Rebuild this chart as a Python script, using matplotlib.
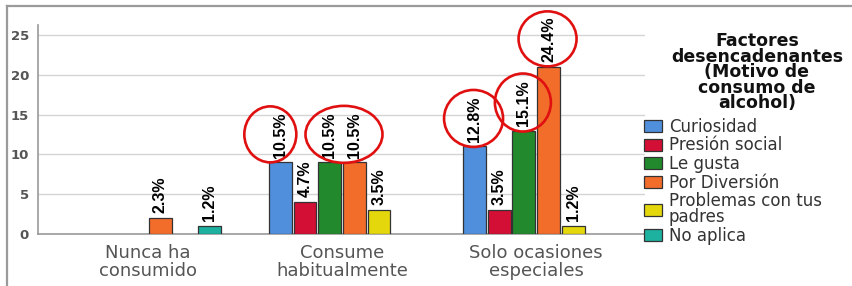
import numpy as np
import matplotlib
matplotlib.use("Agg")
import matplotlib.pyplot as plt
from matplotlib.patches import Ellipse
from matplotlib.lines import Line2D
from matplotlib.transforms import IdentityTransform

plt.rcParams['font.family'] = ['Liberation Sans', 'DejaVu Sans']

# datos (conteos, n total = 86)
categorias = ['Nunca ha\nconsumido', 'Consume\nhabitualmente', 'Solo ocasiones\nespeciales']
factores = ['Curiosidad', 'Presión social', 'Le gusta', 'Por Diversión',
            'Problemas con tus\npadres', 'No aplica']
curiosidad = [0, 9, 11]
presion = [0, 4, 3]
le_gusta = [0, 9, 13]
diversion = [2, 9, 21]
problemas = [0, 3, 1]
no_aplica = [1, 0, 0]
total = 86
yticks = [0, 5, 10, 15, 20, 25]
titulo_leyenda = 'Factores\ndesencadenantes\n(Motivo de\nconsumo de\nalcohol)'

series = [curiosidad, presion, le_gusta, diversion, problemas, no_aplica]
colores = ['#4f8fdc', '#d40f35', '#228a2c', '#f26c2a', '#e4d80c', '#1db2a0']

# circulos rojos: (categoria, [series], ancho px, alto px, dx px)
circulos = [(1, [0], 52, 56, -10),
            (1, [2, 3], 77, 57, 2),
            (2, [0], 59, 57, -1),
            (2, [2], 56, 58, -1),
            (2, [3], 58, 55, -1)]

fig = plt.figure(figsize=(8.53, 2.86), dpi=100)
ax = fig.add_axes([38/853, 1-234/286, (645-38)/853, (234-25)/286])

x = np.arange(len(categorias))
slot = 0.127
bw = 0.118
for i, (vals, col, name) in enumerate(zip(series, colores, factores)):
    pos = x + (i - 2.5) * slot
    m = np.array(vals) > 0
    ax.bar(pos[m], np.array(vals)[m], width=bw, color=col, edgecolor='#333333',
           linewidth=0.9, zorder=3)
    for p, v in zip(pos[m], np.array(vals)[m]):
        ax.annotate(f'{v/total*100:.1f}%', (p, v), xytext=(0, 3.5),
                    textcoords='offset points', rotation=90, ha='center',
                    va='bottom', fontsize=11.5, fontweight='bold', zorder=4)
    ax.bar([np.nan], [np.nan], width=bw, color=col, edgecolor='#333333',
           linewidth=0.9, label=name)

ax.set_xlim(-0.565, 2.56)
ax.set_ylim(0, 26.26)
ax.set_yticks(yticks)
ax.set_xticks(x)
ax.set_xticklabels(categorias, fontsize=13, color='#555555',
                   family='DejaVu Sans', linespacing=1.0)
ax.set_yticklabels([str(v) for v in yticks], fontsize=9.5, color='#555555',
                   family='DejaVu Sans', fontweight='bold')
ax.tick_params(axis='y', length=0, pad=6.5)
ax.tick_params(axis='x', length=0, pad=7)
ax.grid(axis='y', color='#d4d4d4', linewidth=1.0, zorder=0)
ax.set_axisbelow(True)
for s in ['top', 'right']:
    ax.spines[s].set_visible(False)
ax.spines['left'].set_color('#999999')
ax.spines['bottom'].set_color('#999999')
ax.spines['left'].set_linewidth(1.2)
ax.spines['bottom'].set_linewidth(1.2)

# titulo de la leyenda aparte, centrado como en el original
fig.text(757/853, 1-32/286, titulo_leyenda, ha='center', va='top',
         multialignment='center', family='DejaVu Sans', fontweight='bold',
         fontsize=12.5, linespacing=0.83, color='#111111')

leg = ax.legend(loc='upper left', bbox_to_anchor=(644/853, 1-118/286),
                bbox_transform=fig.transFigure, frameon=False,
                prop={'family': 'DejaVu Sans', 'size': 12},
                handlelength=1.1, handleheight=0.75, handletextpad=0.4,
                labelspacing=0.03, borderpad=0, borderaxespad=0)
for t in leg.get_texts():
    t.set_color('#333333')
    t.set_linespacing(0.88)

# circulos rojos alrededor de algunas etiquetas
for cat, idx, w, h, dx in circulos:
    px = np.mean([x[cat] + (i - 2.5) * slot for i in idx])
    top = max(series[i][cat] for i in idx)
    cx, cy = ax.transData.transform((px, top))
    e = Ellipse((cx + dx, cy + 28), w, h, transform=IdentityTransform(),
                fill=False, edgecolor='#e01010', linewidth=1.9, zorder=5)
    fig.patches.append(e)

# marco gris
fig.lines.append(Line2D([7/853, 7/853], [0, 1-6/286], transform=fig.transFigure,
                        color='#9a9a9a', linewidth=1.6))
fig.lines.append(Line2D([7/853, 1], [1-6/286, 1-6/286], transform=fig.transFigure,
                        color='#9a9a9a', linewidth=1.6))

fig.savefig('out.png', dpi=100)
